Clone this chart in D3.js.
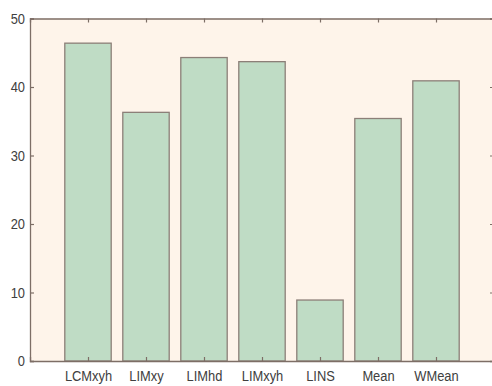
<!DOCTYPE html>
<html>
<head>
<meta charset="utf-8">
<script src="https://cdn.jsdelivr.net/npm/d3@7"></script>
<style>
  html, body { margin: 0; padding: 0; background: #ffffff; }
  svg { display: block; }
  .lbl { font-family: "Liberation Sans Narrow", "Arial Narrow", "Liberation Sans", sans-serif; font-size: 15px; fill: #404040; }
</style>
</head>
<body>
<svg id="chart" width="492" height="386"></svg>
<script>
// Methods and their scores
const categories = ["LCMxyh", "LIMxy", "LIMhd", "LIMxyh", "LINS", "Mean", "WMean"];
const values = [46.4, 36.3, 44.3, 43.7, 8.9, 35.4, 40.9];
const yTicks = [0, 10, 20, 30, 40, 50];

const svg = d3.select("#chart");
const plotLeft = 30, plotRight = 494, plotTop = 18.5, plotBottom = 361;
const squeeze = 0.86; // horizontal condensing of label glyphs

// positions 1..7 with half-step padding on each end (0..8)
const x = d3.scaleLinear().domain([0, categories.length + 1]).range([plotLeft, plotRight]);
const y = d3.scaleLinear().domain([0, 50]).range([plotBottom, plotTop]);
const barW = (x(1) - x(0)) * 0.8;

const axisColor = "#7d6e66";

// plot background
svg.append("rect")
  .attr("x", plotLeft).attr("y", plotTop)
  .attr("width", plotRight - plotLeft).attr("height", plotBottom - plotTop)
  .attr("fill", "#fef4ea");

// bars
svg.append("g").selectAll("rect")
  .data(values)
  .join("rect")
  .attr("x", (d, i) => x(i + 1) - barW / 2)
  .attr("y", d => y(d))
  .attr("width", barW)
  .attr("height", d => plotBottom - y(d))
  .attr("fill", "#bfdcc5")
  .attr("stroke", "#8c7f78")
  .attr("stroke-width", 1.3);

function styleAxis(g) {
  g.select(".domain").attr("stroke", axisColor).attr("stroke-width", 1.3);
  g.selectAll(".tick line").attr("stroke", axisColor).attr("stroke-width", 1.2);
  g.selectAll(".tick text")
    .attr("class", "lbl").attr("font-family", null).attr("font-size", null).attr("fill", null)
    .each(function () {
      const t = d3.select(this);
      const tx = +t.attr("x") || 0;
      t.attr("x", 0).attr("transform", `translate(${tx},0) scale(${squeeze},1)`);
    });
}

// left axis with inward ticks
svg.append("g").attr("transform", `translate(${plotLeft},0)`)
  .call(d3.axisLeft(y).tickValues(yTicks).tickSize(-4).tickPadding(5).tickFormat(d3.format("d")))
  .call(styleAxis);

// right axis mirror ticks
svg.append("g").attr("transform", `translate(${plotRight},0)`)
  .call(d3.axisRight(y).tickValues(yTicks).tickSize(-4).tickFormat(""))
  .call(styleAxis);

// bottom axis with category labels
const xTicks = d3.range(1, categories.length + 1);
svg.append("g").attr("transform", `translate(0,${plotBottom})`)
  .call(d3.axisBottom(x).tickValues(xTicks).tickSize(-4).tickPadding(9).tickFormat(i => categories[i - 1]))
  .call(styleAxis);

// top axis mirror ticks
svg.append("g").attr("transform", `translate(0,${plotTop})`)
  .call(d3.axisTop(x).tickValues(xTicks).tickSize(-4).tickFormat(""))
  .call(styleAxis);
</script>
</body>
</html>
